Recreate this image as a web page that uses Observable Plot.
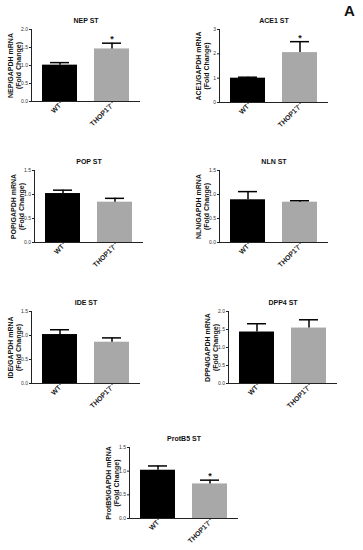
<!DOCTYPE html>
<html><head><meta charset="utf-8">
<script src="https://cdn.jsdelivr.net/npm/d3@7"></script>
<script src="https://cdn.jsdelivr.net/npm/@observablehq/plot@0.6"></script>
<style>
body{margin:0;background:#fff;}
#root{position:relative;width:363px;height:550px;overflow:hidden;background:#fff;font-family:"Liberation Sans",Arial,sans-serif;}
.panel{position:absolute;}
#letter{position:absolute;left:344px;top:2px;font-weight:bold;font-size:15px;color:#111;}
</style></head><body>
<div id="root"><div id="letter">A</div></div>
<script>
// ---- data ----
const genes = ["NEP", "ACE1", "POP", "NLN", "IDE", "DPP4", "ProtB5"];
const groups = ["WT", "THOP1"];
const groupLabels = ["WT", "THOP1⁻/⁻"];
const wtMean = [1.01, 1.00, 1.02, 0.89, 1.02, 1.43, 1.02];
const wtSem  = [0.07, 0.04, 0.07, 0.17, 0.10, 0.23, 0.09];
const koMean = [1.46, 2.05, 0.84, 0.84, 0.86, 1.54, 0.73];
const koSem  = [0.16, 0.45, 0.08, 0.03, 0.09, 0.23, 0.08];
const significant = [true, true, false, false, false, false, true];
const yMax = [2, 3, 1.5, 1.5, 1.5, 2, 1.5];
const yTicks = [
  [0, 0.5, 1, 1.5, 2],
  [0, 1, 2, 3],
  [0, 0.5, 1, 1.5],
  [0, 0.5, 1, 1.5],
  [0, 0.5, 1, 1.5],
  [0, 0.5, 1, 1.5, 2],
  [0, 0.5, 1, 1.5]
];
const tickDecimals = [1, 0, 1, 1, 1, 1, 1];

// ---- layout (panel boxes and margins) ----
const layout = [
  {left: 0,   top: 0,   ml: 31, mt: 29, mb: 34},
  {left: 185, top: 0,   ml: 34, mt: 29, mb: 33},
  {left: 0,   top: 140, ml: 34, mt: 30, mb: 33},
  {left: 185, top: 140, ml: 34, mt: 30, mb: 33},
  {left: 0,   top: 280, ml: 31, mt: 31, mb: 32},
  {left: 185, top: 280, ml: 43, mt: 31, mb: 32},
  {left: 95,  top: 415, ml: 34, mt: 32, mb: 32}
];
const W = 170, H = 135, plotW = 109;

const root = document.getElementById("root");
genes.forEach((g, i) => {
  const L = layout[i];
  const data = [
    {group: "WT", mean: wtMean[i], hi: wtMean[i] + wtSem[i]},
    {group: "THOP1", mean: koMean[i], hi: koMean[i] + koSem[i]}
  ];
  const stars = significant[i] ? data.filter(d => d.group === "THOP1") : [];
  const plot = Plot.plot({
    width: W, height: H,
    marginLeft: L.ml, marginTop: L.mt, marginBottom: L.mb, marginRight: W - L.ml - plotW,
    style: {fontFamily: '"Liberation Sans", Arial, sans-serif', fontSize: "5px", color: "#222", background: "transparent", overflow: "visible"},
    x: {domain: groups, paddingInner: 0.32, paddingOuter: 0.19, axis: null},
    y: {domain: [0, yMax[i]], axis: null},
    color: {domain: groups, range: ["#000000", "#a8a8a8"]},
    marks: [
      Plot.barY(data, {x: "group", y: "mean", fill: "group"}),
      Plot.ruleX(data, {x: "group", y1: "mean", y2: "hi", stroke: "#000", strokeWidth: 1.5}),
      Plot.tickY(data, {x: "group", y: "hi", insetLeft: 8, insetRight: 8, stroke: "#000", strokeWidth: 1.5}),
      Plot.text(stars, {x: "group", y: "hi", text: () => "*", dy: -4, fontSize: 9, fontWeight: "bold", fill: "#111"}),
      Plot.frame({anchor: "left", stroke: "#222"}),
      Plot.ruleY([0], {stroke: "#222"}),
      Plot.axisY({ticks: yTicks[i], tickFormat: d => d.toFixed(tickDecimals[i]), tickSize: 2, tickPadding: 1.5, label: null, fontSize: 5, fill: "#333"}),
      Plot.axisX({tickRotate: -45, tickSize: 2, tickPadding: 1, label: null, fontSize: 7, fontWeight: "bold", fill: "#222",
        tickFormat: d => groupLabels[groups.indexOf(d)]}),
      Plot.text([g + " ST"], {frameAnchor: "top", dy: -11, fontWeight: "bold", fontSize: 7, fill: "#111"}),
      Plot.text([g + "/GAPDH mRNA\n(Fold Change)"], {frameAnchor: "left", textAnchor: "middle", lineAnchor: "middle", rotate: -90, dx: -17, fontWeight: "bold", fontSize: 7, lineHeight: 1.15, fill: "#111"})
    ]
  });
  const div = document.createElement("div");
  div.className = "panel";
  div.style.left = L.left + "px";
  div.style.top = L.top + "px";
  div.appendChild(plot);
  root.appendChild(div);
});
</script>
</body></html>
